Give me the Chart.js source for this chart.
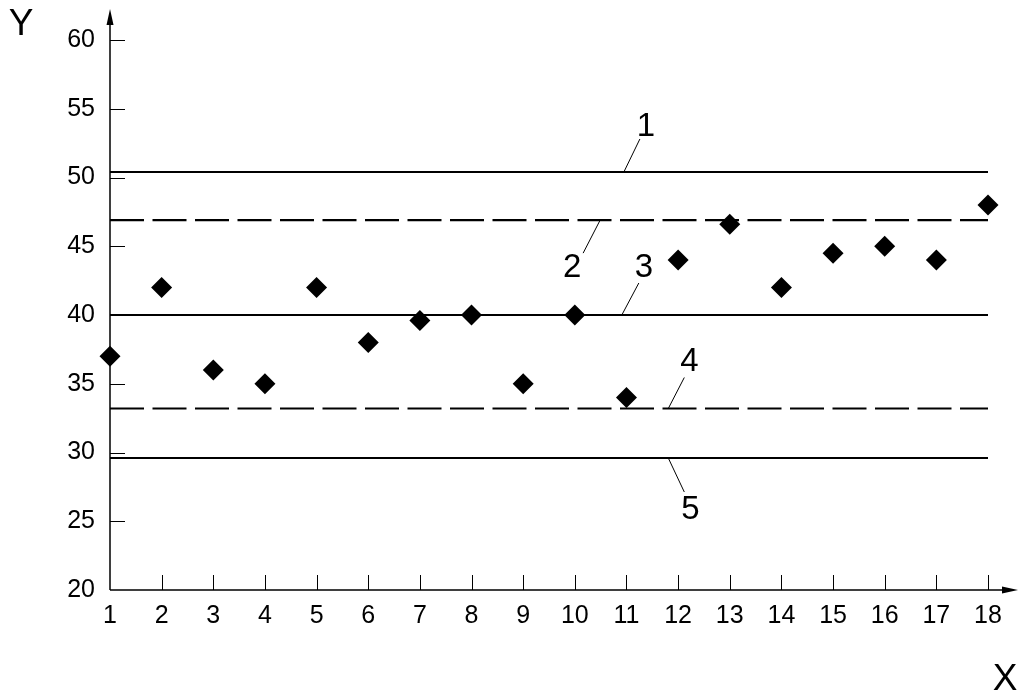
<!DOCTYPE html>
<html>
<head>
<meta charset="utf-8">
<script src="https://cdn.jsdelivr.net/npm/chart.js@4.4.1/dist/chart.umd.min.js"></script>
<style>
  html, body { margin: 0; padding: 0; background: #fff; }
  #wrap { width: 1021px; height: 695px; }
</style>
</head>
<body>
<div id="wrap"><canvas id="chart" width="1021" height="695"></canvas></div>
<script>
// data
const xValues = [1, 2, 3, 4, 5, 6, 7, 8, 9, 10, 11, 12, 13, 14, 15, 16, 17, 18];
const yValues = [37, 42, 36, 35, 42, 38, 39.6, 40, 35, 40, 34, 44, 46.6, 42, 44.5, 45, 44, 48];

// horizontal reference lines 1..5
const lineNames = ["1", "2", "3", "4", "5"];
const lineLevels = [50.4, 46.9, 40, 33.2, 29.6];

const yTicks = [20, 25, 30, 35, 40, 45, 50, 55, 60];
const xTicks = xValues;

const font = "Liberation Sans, Arial, sans-serif";

// where each number label sits on its line (x in data units) and its offsets in px
const callouts = [
    { at: 10.95, end: [16, -33], text: [22, -46] },
    { at: 10.49, end: [-17, 33], text: [-28, 47] },
    { at: 10.91, end: [17, -32], text: [22, -48] },
    { at: 11.81, end: [16, -31], text: [21, -48] },
    { at: 11.81, end: [16, 34], text: [22, 51] }
];

const dashed = [false, true, false, true, false];

const refDatasets = lineLevels.map((lvl, i) => ({
    type: "line",
    label: "line " + lineNames[i],
    data: [{ x: xValues[0], y: lvl }, { x: xValues[xValues.length - 1], y: lvl }],
    borderColor: "#000",
    borderWidth: 2.2,
    borderDash: dashed[i] ? [34, 8.5] : [],
    pointRadius: 0,
    fill: false,
    clip: false
}));

const decor = {
    id: "decor",
    afterDraw(chart) {
        const { ctx, chartArea: a, scales: { x, y } } = chart;
        ctx.save();
        ctx.strokeStyle = "#000";
        ctx.fillStyle = "#000";

        // inward tick marks
        ctx.lineWidth = 1;
        ctx.beginPath();
        yTicks.forEach(v => {
            if (v === yTicks[0]) return;
            const py = Math.round(y.getPixelForValue(v)) + 0.5;
            ctx.moveTo(a.left, py);
            ctx.lineTo(a.left + 15, py);
        });
        xTicks.forEach(v => {
            if (v === xTicks[0]) return;
            const px = Math.round(x.getPixelForValue(v)) + 0.5;
            ctx.moveTo(px, a.bottom);
            ctx.lineTo(px, a.bottom - 15);
        });
        ctx.stroke();

        // axis lines with arrows
        ctx.lineWidth = 1.5;
        ctx.beginPath();
        ctx.moveTo(a.left, a.bottom);
        ctx.lineTo(a.left, 14);
        ctx.moveTo(a.left, a.bottom);
        ctx.lineTo(1012, a.bottom);
        ctx.stroke();
        ctx.beginPath();
        ctx.moveTo(a.left, 9);
        ctx.lineTo(a.left - 3.5, 25);
        ctx.lineTo(a.left + 3.5, 25);
        ctx.closePath();
        ctx.fill();
        ctx.beginPath();
        ctx.moveTo(1018, a.bottom);
        ctx.lineTo(1002, a.bottom - 3.5);
        ctx.lineTo(1002, a.bottom + 3.5);
        ctx.closePath();
        ctx.fill();

        // callout leaders and numbers
        ctx.lineWidth = 1;
        ctx.font = "33px " + font;
        ctx.textAlign = "center";
        ctx.textBaseline = "middle";
        callouts.forEach((c, i) => {
            const px = x.getPixelForValue(c.at);
            const py = y.getPixelForValue(lineLevels[i]);
            ctx.beginPath();
            ctx.moveTo(px, py);
            ctx.lineTo(px + c.end[0], py + c.end[1]);
            ctx.stroke();
            ctx.fillText(lineNames[i], px + c.text[0], py + c.text[1] + 1);
        });

        // axis names
        ctx.font = "37px " + font;
        ctx.fillText("Y", 21, 25);
        ctx.fillText("X", 1005, 680);
        ctx.restore();
    }
};

new Chart(document.getElementById("chart"), {
    type: "scatter",
    data: {
        datasets: [{
            label: "Y",
            data: xValues.map((v, i) => ({ x: v, y: yValues[i] })),
            pointStyle: "rectRot",
            pointRadius: 10.5,
            pointHoverRadius: 10.5,
            pointBackgroundColor: "#000",
            pointBorderWidth: 0,
            clip: false
        }, ...refDatasets]
    },
    options: {
        responsive: false,
        animation: false,
        events: [],
        layout: { padding: { top: 40, right: 33, left: 0, bottom: 0 } },
        plugins: {
            legend: { display: false },
            tooltip: { enabled: false }
        },
        scales: {
            x: {
                type: "linear",
                min: 1,
                max: 18,
                afterFit(s) { s.height = 105; },
                afterBuildTicks(s) { s.ticks = xTicks.map(v => ({ value: v })); },
                grid: { display: false, drawTicks: false },
                border: { display: false },
                ticks: { color: "#000", font: { family: font, size: 25 }, padding: 11, maxRotation: 0, autoSkip: false }
            },
            y: {
                min: 20,
                max: 60,
                afterFit(s) { s.width = 110; },
                afterBuildTicks(s) { s.ticks = yTicks.map(v => ({ value: v })); },
                grid: { display: false, drawTicks: false },
                border: { display: false },
                ticks: { color: "#000", font: { family: font, size: 25 }, padding: 15 }
            }
        }
    },
    plugins: [decor]
});
</script>
</body>
</html>
